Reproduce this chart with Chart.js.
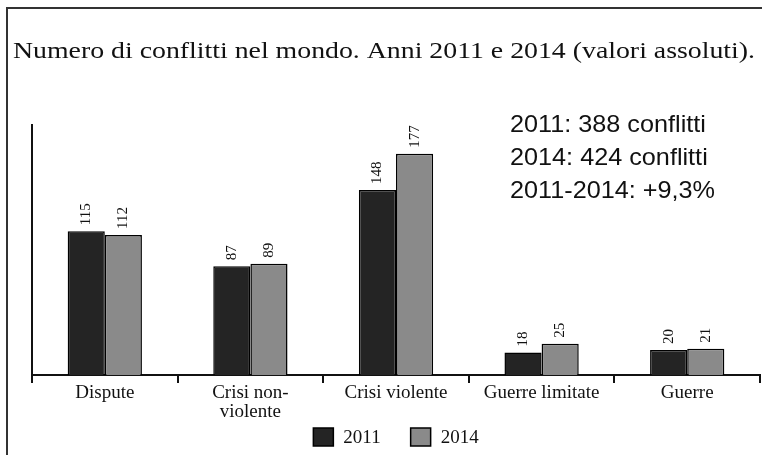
<!DOCTYPE html>
<html lang="it">
<head>
    <meta charset="UTF-8">
    <title>Numero di conflitti nel mondo</title>
    <script src="https://cdn.jsdelivr.net/npm/chart.js@4"></script>
    <style>
        html, body { margin: 0; padding: 0; background: #fff; }
        #box { width: 762px; height: 455px; position: relative; }
    </style>
</head>
<body>
    <div id="box">
        <canvas id="canvas_grafico"></canvas>
    </div>

    <script>
        // dati
        const categorie = ['Dispute', ['Crisi non-', 'violente'], 'Crisi violente', 'Guerre limitate', 'Guerre'];
        const anni = ['2011', '2014'];
        const valori2011 = [115, 87, 148, 18, 20];
        const valori2014 = [112, 89, 177, 25, 21];
        const titolo = 'Numero di conflitti nel mondo. Anni 2011 e 2014 (valori assoluti).';
        const note = ['2011: 388 conflitti', '2014: 424 conflitti', '2011-2014: +9,3%'];

        const serif = '"Liberation Serif", "DejaVu Serif", serif';

        // testo allargato in orizzontale fino alla larghezza voluta
        function testoLargo(ctx, righe, x, y, passo, larghezza) {
            const w = Math.max(...righe.map(r => ctx.measureText(r).width));
            const k = larghezza / w;
            ctx.save();
            ctx.translate(x, 0);
            ctx.scale(k, 1);
            righe.forEach((r, i) => ctx.fillText(r, 0, y + i * passo));
            ctx.restore();
        }

        // cornice, titolo, nota, legenda e valori sopra le barre
        const decorazioni = {
            id: 'decorazioni',
            beforeDraw(chart) {
                const ctx = chart.ctx;
                ctx.save();
                ctx.fillStyle = '#ffffff';
                ctx.fillRect(0, 0, chart.width, chart.height);
                ctx.strokeStyle = '#333';
                ctx.lineWidth = 2;
                ctx.beginPath();
                ctx.moveTo(7, chart.height);
                ctx.lineTo(7, 8);
                ctx.lineTo(chart.width, 8);
                ctx.stroke();

                ctx.fillStyle = '#111';
                ctx.textAlign = 'left';
                ctx.textBaseline = 'alphabetic';
                ctx.font = '24px ' + serif;
                testoLargo(ctx, [titolo], 13, 58, 0, 742);

                ctx.font = '24px "Liberation Sans", Arial, sans-serif';
                testoLargo(ctx, note, 510, 132, 33, 205);

                // legenda
                ctx.textBaseline = 'middle';
                ctx.font = '19px ' + serif;
                const voci = chart.data.datasets.map(ds => ({
                    testo: ds.label, colore: ds.backgroundColor,
                    w: 20 + 10 + ctx.measureText(ds.label).width
                }));
                const totale = voci.reduce((s, v) => s + v.w, 0) + 30 * (voci.length - 1);
                const area = chart.chartArea;
                let x = (area.left + area.right) / 2 - totale / 2;
                const y = 437;
                voci.forEach(v => {
                    ctx.fillStyle = v.colore;
                    ctx.fillRect(x, y - 9, 20, 18);
                    ctx.strokeStyle = '#000';
                    ctx.lineWidth = 1.5;
                    ctx.strokeRect(x, y - 9, 20, 18);
                    ctx.fillStyle = '#111';
                    ctx.fillText(v.testo, x + 30, y + 1);
                    x += v.w + 30;
                });
                ctx.restore();
            },
            afterDatasetsDraw(chart) {
                const ctx = chart.ctx;
                ctx.save();
                ctx.fillStyle = '#111';
                ctx.font = '15px ' + serif;
                ctx.textAlign = 'left';
                ctx.textBaseline = 'middle';
                chart.data.datasets.forEach((ds, i) => {
                    chart.getDatasetMeta(i).data.forEach((bar, j) => {
                        ctx.save();
                        ctx.translate(bar.x, bar.y - 6);
                        ctx.rotate(-Math.PI / 2);
                        ctx.fillText(ds.data[j], 0, 0);
                        ctx.restore();
                    });
                });
                ctx.restore();
            }
        };

        const ctx = document.getElementById('canvas_grafico').getContext('2d');
        const myChart = new Chart(ctx, {
            type: 'bar',
            data: {
                labels: categorie,
                datasets: [{
                    label: anni[0],
                    data: valori2011,
                    backgroundColor: '#242424',
                    borderColor: '#000',
                    borderWidth: 1.5,
                    barPercentage: 1,
                    categoryPercentage: 0.51
                }, {
                    label: anni[1],
                    data: valori2014,
                    backgroundColor: '#8a8a8a',
                    borderColor: '#000',
                    borderWidth: 1.5,
                    barPercentage: 1,
                    categoryPercentage: 0.51
                }]
            },
            options: {
                responsive: true,
                maintainAspectRatio: false,
                animation: false,
                layout: {
                    padding: { top: 125, left: 24, right: 2, bottom: 32 }
                },
                plugins: {
                    tooltip: { enabled: false },
                    legend: { display: false }
                },
                scales: {
                    x: {
                        grid: {
                            offset: true,
                            drawOnChartArea: false,
                            drawTicks: true,
                            tickLength: 8,
                            color: '#111',
                            lineWidth: 2
                        },
                        border: { display: true, color: '#111', width: 2 },
                        ticks: {
                            color: '#111',
                            padding: 1,
                            maxRotation: 0,
                            autoSkip: false,
                            font: { family: serif, size: 19, lineHeight: 1.0 }
                        }
                    },
                    y: {
                        min: 0,
                        max: 200,
                        grid: { display: false },
                        border: { display: true, color: '#111', width: 2 },
                        ticks: { display: false }
                    }
                }
            },
            plugins: [decorazioni]
        });
    </script>
</body>
</html>
